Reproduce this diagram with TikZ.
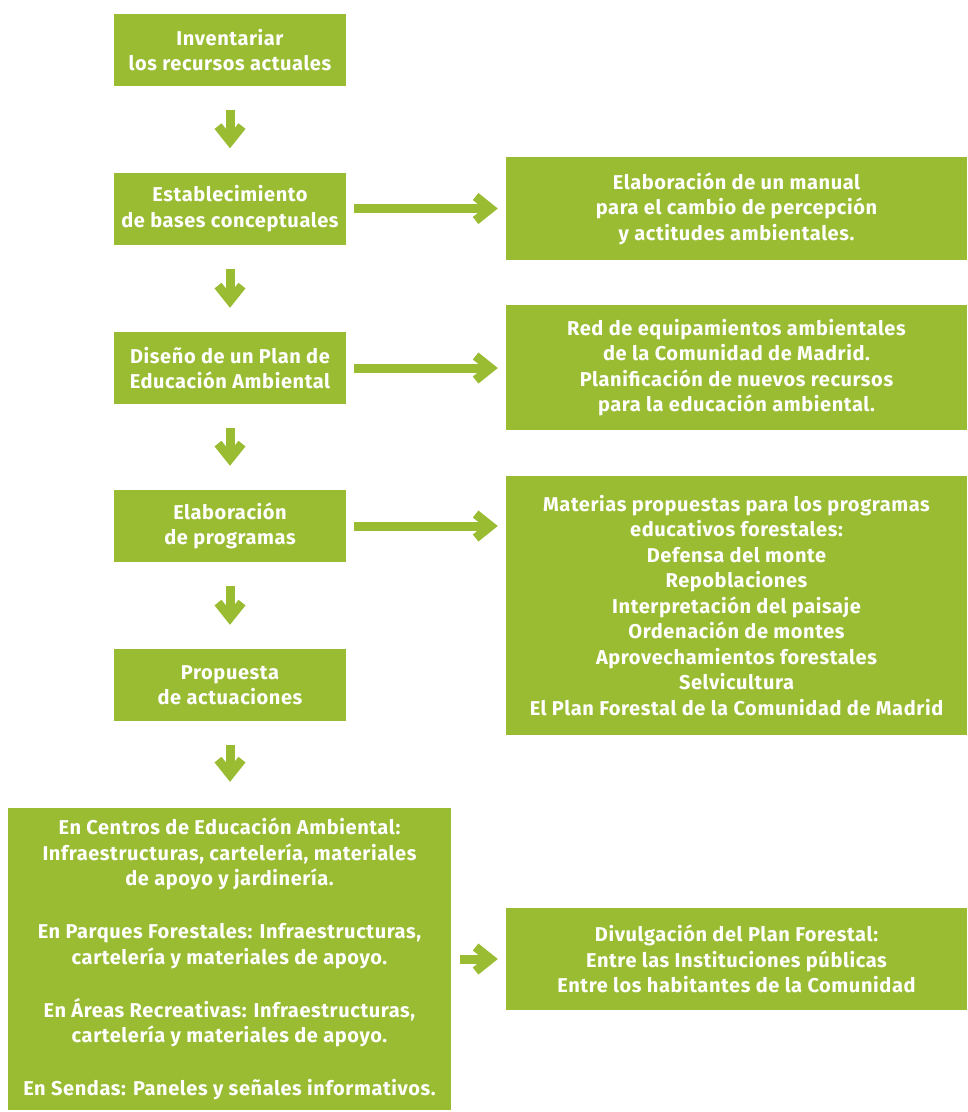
\documentclass[tikz,border=0pt]{standalone}
\usepackage{fontspec}
\setmainfont{Fira Sans}[LetterSpace=3]
\usetikzlibrary{arrows.meta}
\definecolor{verde}{RGB}{153,188,51}
\tikzset{
  caja/.style={fill=verde, text=white, inner sep=0pt, align=center,
    font=\bfseries\fontsize{20}{25.5}\selectfont},
  flecha/.style={draw=verde, line width=9pt,
    -{Straight Barb[sharp, length=15pt, width=24pt]}},
}
\begin{document}
\begin{tikzpicture}[x=1pt, y=-1pt]
    \useasboundingbox (0,0) rectangle (968,1112);

    % Columna izquierda
    \node[caja, minimum width=232pt, minimum height=72pt] (inv) at (230,50) {Inventariar\\los recursos actuales};
    \node[caja, minimum width=232pt, minimum height=72pt] (bases) at (230,208.5) {Establecimiento\\de bases conceptuales};
    \node[caja, minimum width=232pt, minimum height=72pt] (plan) at (230,368) {Diseño de un Plan de\\Educación Ambiental};
    \node[caja, minimum width=232pt, minimum height=72pt] (prog) at (230,526) {Elaboración\\de programas};
    \node[caja, minimum width=232pt, minimum height=72pt] (prop) at (230,685) {Propuesta\\de actuaciones};
    \node[caja, minimum width=443pt, minimum height=302pt] (act) at (229.5,959) {En Centros de Educación Ambiental:\\Infraestructuras, cartelería, materiales\\de apoyo y jardinería.\\[27.5pt]En Parques Forestales: Infraestructuras,\\cartelería y materiales de apoyo.\\[27.5pt]En Áreas Recreativas: Infraestructuras,\\cartelería y materiales de apoyo.\\[27.5pt]En Sendas: Paneles y señales informativos.};

    % Columna derecha
    \node[caja, minimum width=461pt, minimum height=103pt] (manual) at (736.5,208.5) {Elaboración de un manual\\para el cambio de percepción\\y actitudes ambientales.};
    \node[caja, minimum width=461pt, minimum height=125pt] (red) at (736.5,367.5) {Red de equipamientos ambientales\\de la Comunidad de Madrid.\\Planificación de nuevos recursos\\para la educación ambiental.};
    \node[caja, minimum width=461pt, minimum height=259pt] (mat) at (736.5,605.5) {Materias propuestas para los programas\\educativos forestales:\\Defensa del monte\\Repoblaciones\\Interpretación del paisaje\\Ordenación de montes\\Aprovechamientos forestales\\Selvicultura\\El Plan Forestal de la Comunidad de Madrid};
    \node[caja, minimum width=461pt, minimum height=102pt] (div) at (736.5,959) {Divulgación del Plan Forestal:\\Entre las Instituciones públicas\\Entre los habitantes de la Comunidad};

    % Flechas hacia abajo
    \draw[flecha, shorten <=24pt, shorten >=24pt] (inv) -- (bases);
    \draw[flecha, shorten <=24pt, shorten >=24pt] (bases) -- (plan);
    \draw[flecha, shorten <=24pt, shorten >=24pt] (plan) -- (prog);
    \draw[flecha, shorten <=24pt, shorten >=24pt] (prog) -- (prop);
    \draw[flecha, shorten <=24pt, shorten >=26pt] (prop) -- (prop |- act.north);

    % Flechas hacia la derecha
    \draw[flecha, shorten <=8pt, shorten >=8pt] (bases.east) -- (bases.east -| manual.west);
    \draw[flecha, shorten <=8pt, shorten >=8pt] (plan.east) -- (plan.east -| red.west);
    \draw[flecha, shorten <=8pt, shorten >=8pt] (prog.east) -- (prog.east -| mat.west);
    \draw[flecha, shorten <=9pt, shorten >=8pt] (act.east) -- (act.east -| div.west);
\end{tikzpicture}
\end{document}
